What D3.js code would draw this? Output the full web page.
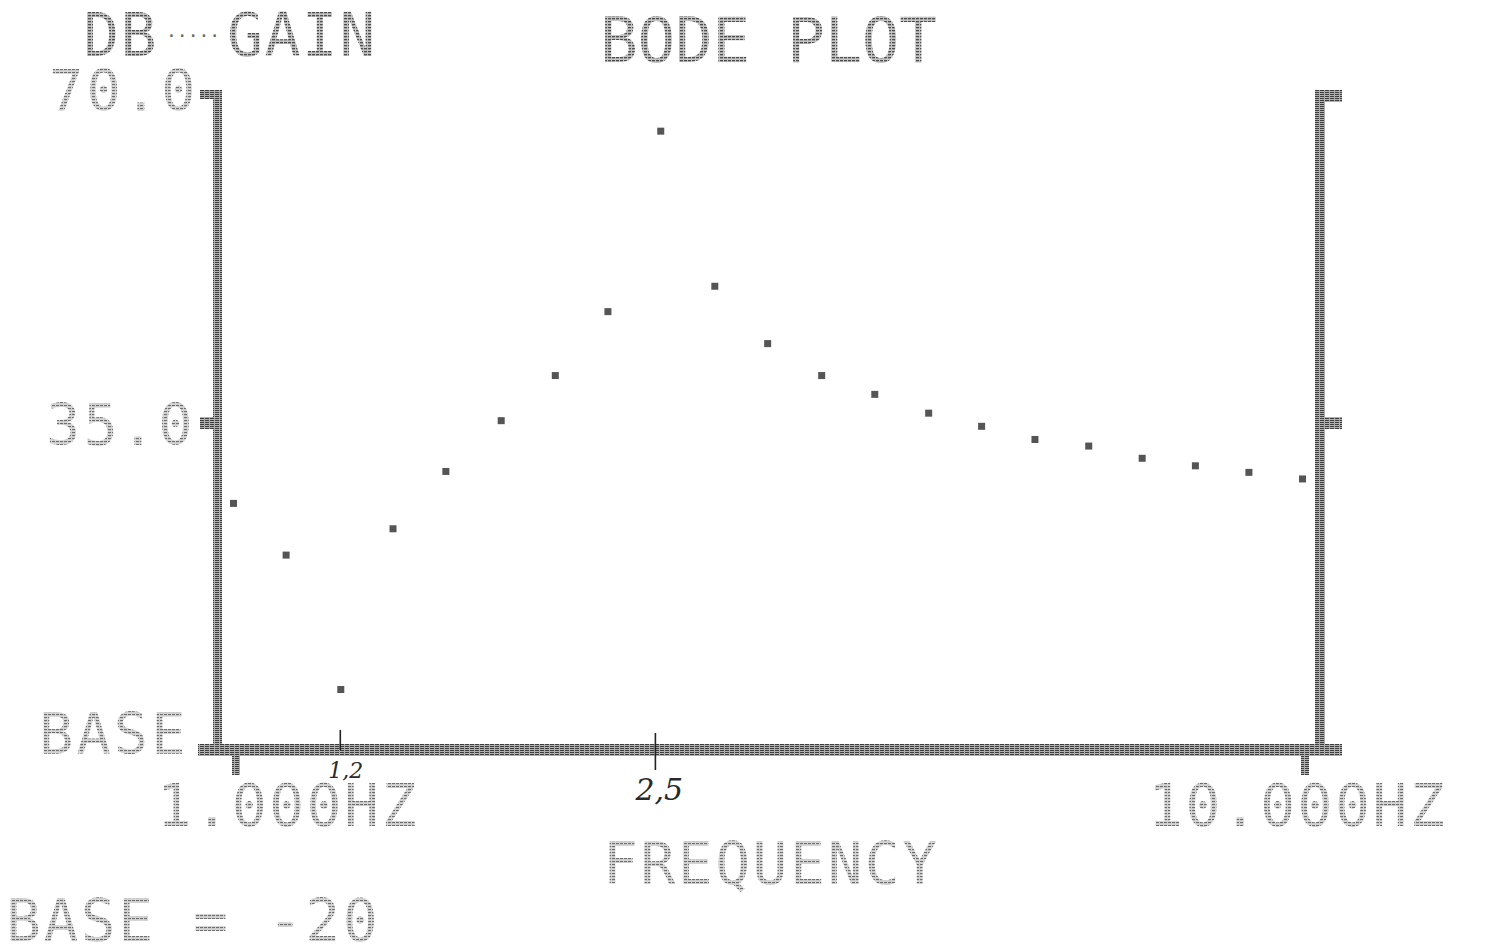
<!DOCTYPE html>
<html><head><meta charset="utf-8">
<script src="https://cdn.jsdelivr.net/npm/d3@7"></script>
<style>html,body{margin:0;padding:0;background:#fff;} svg{display:block}</style>
</head><body>
<script>
// ---- data ----
const frequencies = [1.00, 1.12, 1.26, 1.41, 1.58, 1.78, 2.00, 2.24, 2.51, 2.82, 3.16, 3.55, 3.98, 4.47, 5.01, 5.62, 6.31, 7.08, 7.94, 8.91, 10.0];
const gains = [26.5, 21.0, 6.7, 23.8, 29.9, 35.3, 40.1, 46.9, 66.1, 49.6, 43.5, 40.1, 38.1, 36.1, 34.7, 33.3, 32.6, 31.3, 30.5, 29.8, 29.1];
const yTickValues = [70, 35, 0];
const yTickLabels = ["70.0", "35.0", "BASE"];
const xTickValues = [1, 10];
const xTickLabels = ["1.000HZ", "10.000HZ"];
const titleText = "BODE PLOT";
const yTitleLeft = "DB";
const yTitleRight = "GAIN";
const xTitle = "FREQUENCY";
const baseNote = "BASE = -20";
const noteFreqs = [1.26, 2.5];
const noteLabels = ["1,2", "2,5"];

const W = 1497, H = 950;
const svg = d3.select("body").append("svg").attr("width", W).attr("height", H);
svg.append("rect").attr("width", W).attr("height", H).attr("fill", "#fff");
const defs = svg.append("defs");

function stripePattern(id, w, h, bg, fg, lh) {
  const p = defs.append("pattern").attr("id", id).attr("patternUnits", "userSpaceOnUse")
    .attr("width", w).attr("height", h);
  p.append("rect").attr("width", w).attr("height", h).attr("fill", bg);
  p.append("rect").attr("width", w - 1).attr("height", lh).attr("fill", fg);
  return p;
}
stripePattern("ink", 4, 3, "#c4c4c4", "#4d4d4d", 1.3);
stripePattern("inkLight", 4, 3, "#d4d4d4", "#6e6e6e", 1.1);
stripePattern("axisInk", 5, 2, "#b0b0b0", "#3e3e3e", 1);

const x = d3.scaleLog().domain([1, 10]).range([233, 1302]);
const y = d3.scaleLinear().domain([0, 70]).range([752, 94]);

const FONT = "'DejaVu Sans Mono', 'Liberation Mono', monospace";
function label(txt, tx, baseline, opts = {}) {
  const size = opts.size || 60;
  return svg.append("text")
    .attr("x", tx).attr("y", baseline)
    .attr("font-family", FONT)
    .attr("font-size", size)
    .attr("letter-spacing", 37.4 - 0.602 * size)
    .attr("fill", opts.fill || "url(#ink)")
    .text(txt);
}

// ---- axes frame ----
const g = svg.append("g").attr("fill", "url(#axisInk)");
const frameTop = y(70) - 4, frameBottom = y(0) + 4;
// left axis
g.append("rect").attr("x", x(1) - 20).attr("y", frameTop).attr("width", 9).attr("height", frameBottom - frameTop);
// right axis
g.append("rect").attr("x", x(10) + 13).attr("y", frameTop).attr("width", 10).attr("height", frameBottom - frameTop - 4);
// bottom axis
g.append("rect").attr("x", x(1) - 35).attr("y", y(0) - 8).attr("width", (x(10) + 40) - (x(1) - 35)).attr("height", 12);
// y ticks, left and right
yTickValues.filter(v => v > 0).forEach((v, i) => {
  const h = i === 0 ? 9 : 12;
  const yy = i === 0 ? y(v) - 4 : y(v) - 6;
  g.append("rect").attr("x", x(1) - 33).attr("y", yy).attr("width", 22).attr("height", h);
  g.append("rect").attr("x", x(10) + 20).attr("y", yy).attr("width", 20).attr("height", 12);
});
// x ticks
xTickValues.forEach(v => {
  g.append("rect").attr("x", x(v) - 1).attr("y", y(0) + 4).attr("width", 8).attr("height", 19);
});

// ---- tick labels ----
const yLabelX = [49, 46, 39];
const yLabelDy = [17, 22, 2];
yTickValues.forEach((v, i) => label(yTickLabels[i], yLabelX[i], y(v) + yLabelDy[i], {size: 57, fill: "url(#inkLight)"}));
const xLabelDx = [-76, -154];
xTickValues.forEach((v, i) => label(xTickLabels[i], x(v) + xLabelDx[i], 826, {size: 58, fill: "url(#inkLight)"}));

// ---- titles ----
label(yTitleLeft, 83, 56, {size: 60});
svg.append("text").attr("x", 166).attr("y", 42).attr("font-family", FONT).attr("font-size", 18)
  .attr("fill", "#666").text("·····");
label(yTitleRight, 227, 56, {size: 60});
label(titleText, 600, 62, {size: 63});
label(xTitle, 603, 884, {size: 58, fill: "url(#inkLight)"});
label(baseNote, 6, 941, {size: 58, fill: "url(#inkLight)"});

// ---- data points ----
svg.append("g").selectAll("rect").data(frequencies).join("rect")
  .attr("x", d => x(d) - 3)
  .attr("y", (d, i) => y(gains[i]) - 3)
  .attr("width", 7).attr("height", 7)
  .attr("fill", "#555");

// ---- handwritten notes ----
const notes = svg.append("g");
noteFreqs.forEach((f, i) => {
  const xx = x(f) - (i === 0 ? 0 : 3);
  notes.append("line").attr("x1", xx).attr("x2", xx)
    .attr("y1", i === 0 ? 730 : 733).attr("y2", i === 0 ? 750 : 770)
    .attr("stroke", "#222").attr("stroke-width", 1.6);
  notes.append("text")
    .attr("x", i === 0 ? xx - 12 : xx - 20)
    .attr("y", i === 0 ? 778 : 800)
    .attr("font-family", "'DejaVu Serif', serif")
    .attr("font-style", "italic")
    .attr("font-size", i === 0 ? 22 : 30)
    .attr("fill", "#2a2a2a")
    .text(noteLabels[i]);
});
</script>
</body></html>
